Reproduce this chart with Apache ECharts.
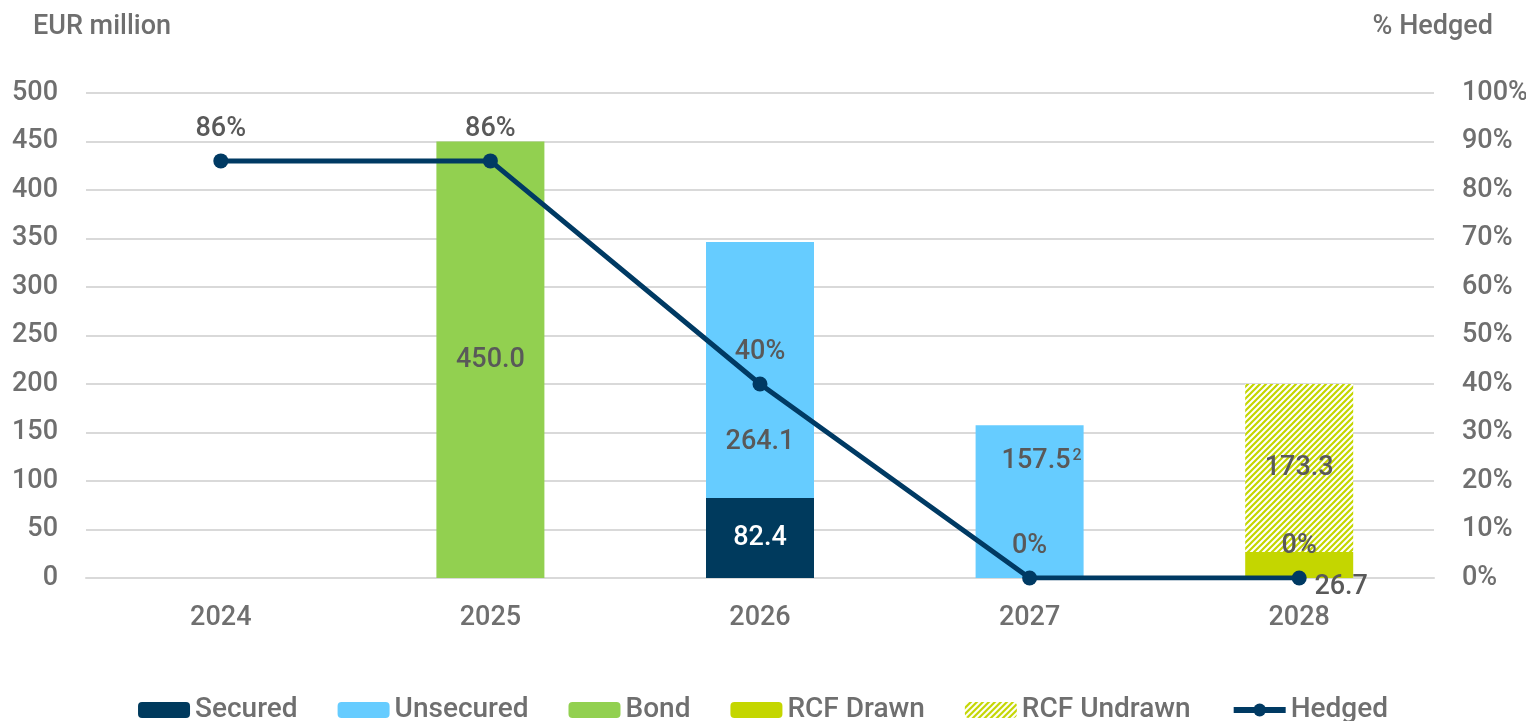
<!DOCTYPE html>
<html>
<head>
<meta charset="utf-8">
<script src="https://cdn.jsdelivr.net/npm/echarts@6/dist/echarts.min.js"></script>
<style>
    html, body { margin: 0; padding: 0; background: #fff; }
    #chart { width: 1526px; height: 721px; }
</style>
</head>
<body>
<div id="chart"></div>
<script>
// data
const years = ['2024', '2025', '2026', '2027', '2028'];
const secured = ['-', '-', 82.4, '-', '-'];
const unsecured = ['-', '-', 264.1, 157.5, '-'];
const bond = ['-', 450.0, '-', '-', '-'];
const rcfDrawn = ['-', '-', '-', '-', 26.7];
const rcfUndrawn = ['-', '-', '-', '-', 173.3];
const hedged = [86, 86, 40, 0, 0];

const font = 'Roboto';
const weight = 500;
const axisGrey = '#6f6f6f';
const labelGrey = '#595959';

// hatched pattern for the undrawn RCF
function makeHatch() {
    let c = document.createElement('canvas');
    c.width = 6;
    c.height = 6;
    let ctx = c.getContext('2d');
    ctx.fillStyle = '#ffffff';
    ctx.fillRect(0, 0, 6, 6);
    ctx.strokeStyle = '#c4d600';
    ctx.lineWidth = 2.2;
    ctx.beginPath();
    ctx.moveTo(-1, 7); ctx.lineTo(7, -1);
    ctx.moveTo(-4, 4); ctx.lineTo(4, -4);
    ctx.moveTo(2, 10); ctx.lineTo(10, 2);
    ctx.stroke();
    return c;
}

function barLabel() {
    return {
        show: true,
        position: 'inside',
        fontFamily: font,
        fontWeight: weight,
        fontSize: 27,
        color: labelGrey,
        formatter: p => p.value.toFixed(1)
    };
}

let chart = echarts.init(document.getElementById('chart'));
let option = {
    animation: false,
    textStyle: { fontFamily: font },
    title: [
        { text: 'EUR million', left: 28, top: 9, textStyle: { fontFamily: font, fontSize: 27, fontWeight: weight, color: axisGrey } },
        { text: '% Hedged', right: 28, top: 9, textStyle: { fontFamily: font, fontSize: 27, fontWeight: weight, color: axisGrey } }
    ],
    legend: {
        bottom: -8,
        left: 'center',
        itemWidth: 52,
        itemHeight: 16,
        itemGap: 40,
        textStyle: { fontFamily: font, fontWeight: weight, fontSize: 28, color: axisGrey },
        data: ['Secured', 'Unsecured', 'Bond', 'RCF Drawn', 'RCF Undrawn',
            { name: 'Hedged', itemStyle: { color: '#003a63' }, lineStyle: { width: 6, color: '#003a63' } }]
    },
    grid: { left: 86, right: 92, top: 93, bottom: 143, outerBoundsMode: 'none' },
    xAxis: {
        type: 'category',
        data: years,
        axisLine: { lineStyle: { color: '#d9d9d9', width: 2 } },
        axisTick: { show: false },
        axisLabel: { fontFamily: font, fontWeight: weight, fontSize: 27, color: axisGrey, margin: 27 }
    },
    yAxis: [
        {
            type: 'value', min: 0, max: 500, interval: 50,
            axisLabel: { fontFamily: font, fontWeight: weight, fontSize: 27, color: axisGrey, margin: 28 },
            splitLine: { lineStyle: { color: '#d9d9d9', width: 2 } }
        },
        {
            type: 'value', min: 0, max: 100, interval: 10,
            axisLabel: { fontFamily: font, fontWeight: weight, fontSize: 27, color: axisGrey, margin: 28, formatter: '{value}%' },
            splitLine: { show: false }
        }
    ],
    series: [
        {
            name: 'Secured', type: 'bar', stack: 'debt', barWidth: 108,
            itemStyle: { color: '#003a5d' },
            label: Object.assign(barLabel(), { color: '#ffffff' }),
            data: secured
        },
        {
            name: 'Unsecured', type: 'bar', stack: 'debt',
            itemStyle: { color: '#66ccff' },
            label: barLabel(),
            data: unsecured.map((v, i) => {
                if (i === 2) return { value: v, label: { offset: [0, 72] } };
                if (i === 3) return {
                    value: v,
                    label: {
                        offset: [12, -40],
                        formatter: p => '{n|' + p.value.toFixed(1) + '}{s|2}',
                        rich: {
                            n: { fontFamily: font, fontWeight: weight, fontSize: 27, color: labelGrey },
                            s: { fontFamily: font, fontWeight: weight, fontSize: 16, color: labelGrey, verticalAlign: 'top', padding: [0, 0, 12, 2] }
                        }
                    }
                };
                return v;
            })
        },
        {
            name: 'Bond', type: 'bar', stack: 'debt',
            itemStyle: { color: '#92d050' },
            label: barLabel(),
            data: bond
        },
        {
            name: 'RCF Drawn', type: 'bar', stack: 'debt',
            itemStyle: { color: '#c4d600' },
            label: Object.assign(barLabel(), { offset: [42, 22] }),
            data: rcfDrawn
        },
        {
            name: 'RCF Undrawn', type: 'bar', stack: 'debt',
            itemStyle: { color: { image: makeHatch(), repeat: 'repeat' } },
            label: barLabel(),
            data: rcfUndrawn
        },
        {
            name: 'Hedged', type: 'line', yAxisIndex: 1, z: 5,
            symbol: 'circle', symbolSize: 15,
            lineStyle: { color: '#003a63', width: 5 },
            itemStyle: { color: '#003a63' },
            label: {
                show: true, position: 'top', distance: 11,
                fontFamily: font, fontWeight: weight, fontSize: 27, color: labelGrey,
                formatter: '{c}%'
            },
            data: hedged
        }
    ]
};
option && chart.setOption(option);
</script>
</body>
</html>
